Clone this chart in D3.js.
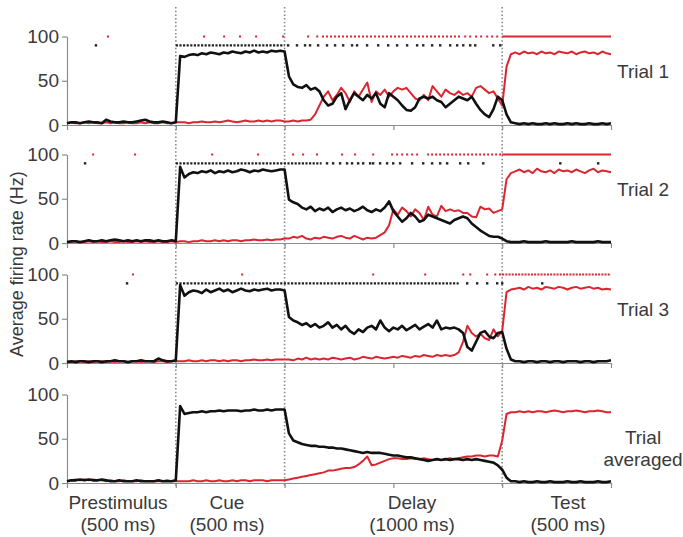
<!DOCTYPE html>
<html>
<head>
<meta charset="utf-8">
<script src="https://cdn.jsdelivr.net/npm/d3@7"></script>
<style>
  html, body { margin: 0; padding: 0; background: #fff; }
  svg { display: block; font-family: "Liberation Sans", Arial, sans-serif; }
</style>
</head>
<body>
<svg id="chart" width="683" height="537"></svg>
<script>
// ---------------- DATA ----------------
const timeStep = 20;                     // ms between samples
const times = d3.range(0, 2501, timeStep);   // 0 .. 2500 ms (126 samples)
const epochBounds = [500, 1000, 2000];
const xTicks = [0, 500, 1000, 1500, 2000, 2500];
const yTicks = [0, 50, 100];
const epochNames = ["Prestimulus", "Cue", "Delay", "Test"];
const epochDurations = ["(500 ms)", "(500 ms)", "(1000 ms)", "(500 ms)"];
const panelNames = [["Trial 1"], ["Trial 2"], ["Trial 3"], ["Trial", "averaged"]];
const rasterLevels = { red: 100, black: 90 };

// firing rates (Hz) — black = cue-selective neuron, red = test-selective neuron
const trial1Black = [2,3,3,2,3,4,3,3,2,6,4,3,3,4,3,3,4,5,6,4,3,3,4,3,2,3,
  78,77,79,80,79,81,80,82,81,80,82,81,83,82,81,83,82,84,82,83,82,84,83,84,83,
  55,46,43,42,45,40,42,38,28,22,24,32,36,18,28,36,32,28,34,30,36,24,20,36,32,
  28,22,17,16,20,30,32,30,32,28,26,20,24,28,32,30,28,32,24,17,12,9,18,32,28,
  12,3,2,1,2,1,2,1,1,2,1,2,1,1,2,1,2,1,1,2,1,1,2,1,2];
const trial1Red = [2,3,2,2,3,2,3,2,2,3,2,3,2,2,3,2,2,3,2,3,2,2,3,2,2,3,
  3,3,2,3,3,4,3,3,4,3,4,5,4,3,4,5,4,4,5,4,5,4,5,5,4,
  4,5,4,5,5,6,12,22,32,38,28,34,42,36,26,38,32,40,48,26,38,34,40,32,38,
  42,40,42,36,30,28,34,28,44,38,32,40,36,34,38,34,36,32,42,44,40,36,38,30,22,
  66,80,82,80,83,81,82,80,83,81,82,80,83,82,81,83,80,82,83,81,82,80,83,81,80];
const trial2Black = [1,2,2,1,2,3,2,2,3,2,3,4,3,2,3,2,3,2,3,3,2,3,2,2,3,2,
  86,74,78,80,79,81,80,82,79,81,80,82,80,81,83,82,80,82,81,83,82,81,82,83,83,
  49,46,44,40,38,41,36,39,37,40,35,38,40,37,39,36,38,41,37,35,38,36,40,47,36,
  30,24,28,34,30,24,26,32,30,28,26,24,22,26,28,30,28,22,18,14,11,8,7,7,5,
  2,1,1,1,2,1,1,1,1,2,1,1,1,1,1,2,1,1,1,1,1,2,1,1,1];
const trial2Red = [1,1,2,1,1,2,1,2,1,1,2,1,1,2,1,1,2,1,2,1,1,2,1,1,2,1,
  2,2,1,2,2,3,2,2,3,2,3,2,3,3,2,3,3,4,3,3,4,3,4,4,5,
  5,7,6,8,5,4,6,5,7,6,5,7,8,6,5,8,6,4,6,5,6,9,12,20,38,
  32,40,36,30,38,34,26,41,32,30,42,36,38,36,37,34,34,30,29,41,38,39,34,36,38,
  72,79,81,83,80,82,79,84,81,80,82,79,83,81,82,80,83,81,79,82,84,80,82,81,80];
const trial3Black = [1,2,1,2,2,1,2,2,1,2,2,3,2,2,1,2,2,3,2,2,2,5,3,2,2,3,
  88,76,80,82,81,79,83,80,82,84,81,83,80,82,84,82,81,83,82,83,84,82,83,83,82,
  52,48,46,43,45,41,44,40,42,46,40,43,38,42,36,33,38,35,40,42,38,48,40,36,40,
  38,42,37,40,43,38,41,44,40,48,38,40,39,40,38,34,18,14,24,34,36,30,28,34,35,
  16,4,2,2,1,2,2,1,2,2,1,2,2,1,2,2,2,1,2,2,1,2,2,2,3];
const trial3Red = [2,1,2,2,1,2,1,2,2,1,2,1,2,2,1,2,2,1,2,2,1,2,2,1,2,2,
  2,2,3,2,2,3,2,3,3,2,3,2,3,3,2,3,3,4,3,3,4,3,4,4,4,
  4,3,5,4,6,4,5,4,5,4,6,5,4,5,6,4,5,7,6,5,7,6,5,6,7,
  6,8,7,6,8,7,9,8,7,9,8,9,8,9,12,24,42,34,30,33,28,26,38,30,36,
  80,83,84,85,83,86,84,85,83,86,85,84,86,85,83,85,86,84,85,86,84,85,83,84,83];
const avgBlack = [2,3,3,4,3,4,3,3,4,3,2,2,3,2,2,2,3,2,2,2,2,3,2,2,2,3,
  87,78,79,80,80,81,80,81,81,82,81,82,82,82,81,82,82,83,82,82,83,82,83,83,83,
  56,48,46,44,43,42,42,41,41,40,40,39,39,38,37,36,35,34,35,34,34,34,33,32,31,
  31,30,29,29,28,27,26,25,26,27,26,27,26,27,27,26,27,26,27,26,25,24,23,20,15,
  6,2,2,1,2,1,1,2,1,1,2,1,1,1,2,1,1,2,1,1,1,2,1,1,2];
const avgRed = [2,3,4,3,4,3,4,3,3,2,3,2,2,3,2,2,2,3,2,2,2,2,2,3,2,2,
  2,2,2,3,2,2,3,2,2,3,2,2,3,2,3,3,2,3,3,3,2,3,3,3,3,
  4,5,6,7,8,9,10,11,12,14,14,15,16,17,17,18,21,25,30,20,21,23,25,27,28,
  28,27,27,28,27,27,28,27,26,27,26,27,28,27,28,29,30,30,31,31,30,31,31,30,48,
  78,80,80,81,80,81,80,81,81,80,81,82,81,80,81,81,82,81,80,81,81,82,81,80,80];

// spike rasters (ms): single spikes, dense bursts (dotted runs) and continuous runs
const trial1RedSpikes = [188,630,722,795,869,993,1108,1150,1830,1853,1880,1903,1931,1954,1977];
const trial1RedBursts = [[1172,1810]];
const trial1RedRuns = [[2000,2500]];
const trial1BlackSpikes = [133,1016,1057,1094,1117,1154,1195,1232,1269,1310,1333,1379,1430,1476,1517,1563,1609,1637,1678,1715,1761,1793,1821,1853,1876,1959,1991];
const trial1BlackBursts = [[500,1000]];

const trial2RedSpikes = [120,313,667,878,1039,1085,1149,1264,1324,1407,1494,1517,1540,1563,1586,1609];
const trial2RedBursts = [[1655,1995]];
const trial2RedRuns = [[2000,2500]];
const trial2BlackSpikes = [83,1195,1223,1255,1287,1310,1338,1361,1393,1407,1439,1471,1499,1531,1586,1637,1678,1715,1747,1807,1844,1913,2267,2441];
const trial2BlackBursts = [[500,1170]];

const trial3RedSpikes = [303,805,1407,1646,1821,1853,1931,1968];
const trial3RedBursts = [[1985,2500]];
const trial3RedRuns = [];
const trial3BlackSpikes = [276,1839,1885,1931,1977,2000,2184];
const trial3BlackBursts = [[500,1800]];

const panels = [
  { black: trial1Black, red: trial1Red, redSpikes: trial1RedSpikes, redBursts: trial1RedBursts, redRuns: trial1RedRuns, blackSpikes: trial1BlackSpikes, blackBursts: trial1BlackBursts },
  { black: trial2Black, red: trial2Red, redSpikes: trial2RedSpikes, redBursts: trial2RedBursts, redRuns: trial2RedRuns, blackSpikes: trial2BlackSpikes, blackBursts: trial2BlackBursts },
  { black: trial3Black, red: trial3Red, redSpikes: trial3RedSpikes, redBursts: trial3RedBursts, redRuns: trial3RedRuns, blackSpikes: trial3BlackSpikes, blackBursts: trial3BlackBursts },
  { black: avgBlack, red: avgRed, redSpikes: [], redBursts: [], redRuns: [], blackSpikes: [], blackBursts: [] }
];

// ---------------- LAYOUT ----------------
const panelBottoms = [125, 243, 363, 483];
const panelHeight = 88.5;
const RED = "#db2530", BLACK = "#111", AXIS = "#8c8c8c", TEXT = "#3a3a3a";

const svg = d3.select("#chart");
const x = d3.scaleLinear().domain([0, 2500]).range([67, 611]);

// vertical dotted epoch boundaries
svg.append("g").selectAll("line").data(epochBounds).join("line")
  .attr("x1", d => x(d)).attr("x2", d => x(d))
  .attr("y1", 7).attr("y2", 487)
  .attr("stroke", "#8a8a8a").attr("stroke-width", 1.6)
  .attr("stroke-dasharray", "1.5,2.2");

panels.forEach((p, k) => {
  const y = d3.scaleLinear().domain([0, 100]).range([panelBottoms[k], panelBottoms[k] - panelHeight]);
  const g = svg.append("g");

  // axes
  const yAx = g.append("g").attr("transform", `translate(${x(0)},0)`)
    .call(d3.axisLeft(y).tickValues(yTicks).tickSize(5).tickSizeOuter(0).tickPadding(3));
  yAx.select(".domain").attr("stroke", AXIS).attr("stroke-width", 1.2);
  yAx.selectAll(".tick line").attr("stroke", AXIS).attr("stroke-width", 1.2);
  yAx.selectAll(".tick text").attr("fill", TEXT).attr("font-size", 19)
    .attr("font-family", "Liberation Sans, Arial, sans-serif");

  const xAx = g.append("g").attr("transform", `translate(0,${y(0)})`)
    .call(d3.axisBottom(x).tickValues(xTicks).tickSize(5).tickSizeOuter(0).tickFormat(""));
  xAx.select(".domain").attr("stroke", AXIS).attr("stroke-width", 1.2);
  xAx.selectAll(".tick line").attr("stroke", AXIS).attr("stroke-width", 1.2);

  // rasters
  const ry = y(rasterLevels.red), by = y(rasterLevels.black);
  g.append("g").selectAll("line").data(p.redRuns).join("line")
    .attr("x1", d => x(d[0])).attr("x2", d => x(d[1])).attr("y1", ry).attr("y2", ry)
    .attr("stroke", RED).attr("stroke-width", 2);
  g.append("g").selectAll("line").data(p.redBursts).join("line")
    .attr("x1", d => x(d[0])).attr("x2", d => x(d[1])).attr("y1", ry).attr("y2", ry)
    .attr("stroke", RED).attr("stroke-width", 2)
    .attr("stroke-dasharray", k === 2 ? "2,1.2" : "2,2");
  g.append("g").selectAll("rect").data(p.redSpikes).join("rect")
    .attr("x", d => x(d) - 1).attr("y", ry - 1).attr("width", 2).attr("height", 2)
    .attr("fill", RED);
  g.append("g").selectAll("line").data(p.blackBursts).join("line")
    .attr("x1", d => x(d[0])).attr("x2", d => x(d[1])).attr("y1", by).attr("y2", by)
    .attr("stroke", "#222").attr("stroke-width", 2.4)
    .attr("stroke-dasharray", "2.2,1.4");
  g.append("g").selectAll("rect").data(p.blackSpikes).join("rect")
    .attr("x", d => x(d) - 1.2).attr("y", by - 1.2).attr("width", 2.4).attr("height", 2.4)
    .attr("fill", "#222");

  // firing-rate traces
  const line = d3.line().x((d, i) => x(times[i])).y(d => y(d));
  g.append("path").datum(p.red).attr("d", line)
    .attr("fill", "none").attr("stroke", RED).attr("stroke-width", 2)
    .attr("stroke-linejoin", "round");
  g.append("path").datum(p.black).attr("d", line)
    .attr("fill", "none").attr("stroke", BLACK).attr("stroke-width", 2.6)
    .attr("stroke-linejoin", "round");

  // panel label
  const lines = panelNames[k];
  const lab = g.append("text").attr("fill", TEXT).attr("font-size", 19);
  if (lines.length === 1) {
    lab.attr("x", 617).attr("y", y(0) - 47).text(lines[0]);
  } else {
    lab.attr("text-anchor", "middle");
    lab.selectAll("tspan").data(lines).join("tspan")
      .attr("x", 643).attr("y", (d, i) => y(0) - 39 + i * 22).text(d => d);
  }
});

// epoch labels under the bottom panel
const epochCenters = [118, 227, 412, 568];
const eg = svg.append("g").attr("fill", TEXT).attr("font-size", 19).attr("text-anchor", "middle");
epochNames.forEach((name, i) => {
  const t = eg.append("text");
  t.append("tspan").attr("x", epochCenters[i]).attr("y", 509).text(name);
  t.append("tspan").attr("x", epochCenters[i]).attr("y", 531).text(epochDurations[i]);
});

// y-axis title
svg.append("text")
  .attr("transform", "translate(23,264) rotate(-90)")
  .attr("text-anchor", "middle").attr("fill", TEXT).attr("font-size", 18)
  .text("Average firing rate (Hz)");
</script>
</body>
</html>
